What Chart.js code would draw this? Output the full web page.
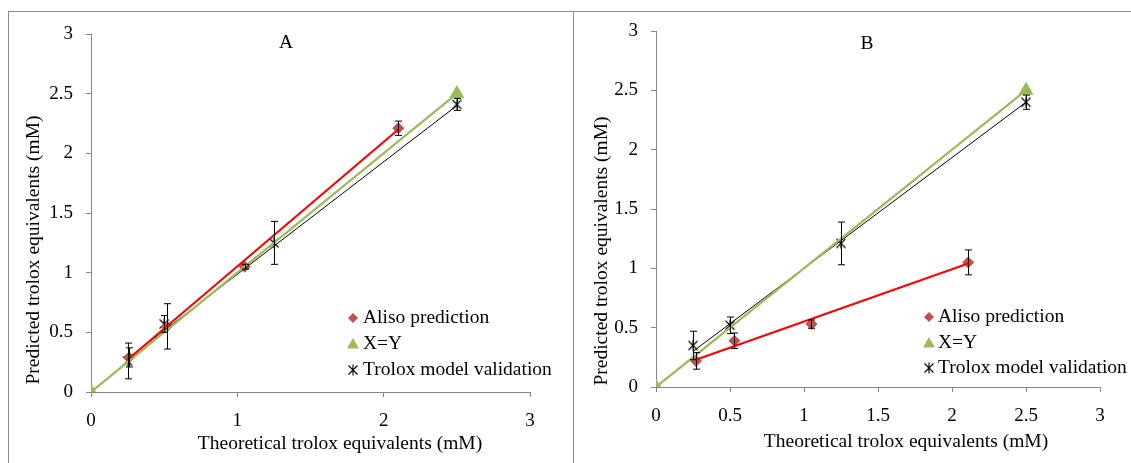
<!DOCTYPE html>
<html>
<head>
<meta charset="utf-8">
<title>Trolox equivalents</title>
<script src="https://cdn.jsdelivr.net/npm/chart.js@4.4.1/dist/chart.umd.min.js"></script>
<style>
    body{
        margin:0;
        background:#fff;
        width:1131px;
        height:463px;
        overflow:hidden;
        position:relative;
    }
    canvas{ position:absolute; top:0; }
    #chartA{ left:0; }
    #chartB{ left:573px; }
    .rule{ position:absolute; background:#8c8c8c; }
</style>
</head>
<body>

<div class="rule" style="left:8px;top:11px;width:1123px;height:1px;"></div>
<div class="rule" style="left:8px;top:11px;width:1px;height:452px;"></div>
<div class="rule" style="left:573px;top:11px;width:1px;height:452px;"></div>

<canvas id="chartA" width="573" height="463"></canvas>
<canvas id="chartB" width="558" height="463"></canvas>

<script>

/* =========================
   DATA
========================= */

const yTicks  = ["0", "0.5", "1", "1.5", "2", "2.5", "3"];
const xTicksA = ["0", "1", "2", "3"];
const xTicksB = ["0", "0.5", "1", "1.5", "2", "2.5", "3"];

// Panel A
const alisoA_x   = [0.26, 0.52, 1.05, 2.10];
const alisoA_y   = [0.29, 0.55, 1.05, 2.21];
const alisoA_err = [0.08, 0.19, 0.02, 0.06];

const troloxA_x   = [0.25, 0.50, 1.25, 2.50];
const troloxA_y   = [0.26, 0.57, 1.25, 2.41];
const troloxA_err = [0.15, 0.07, 0.18, 0.05];

const alisoA_fitX  = [0.25, 2.10];
const alisoA_fitY  = [0.27, 2.20];
const troloxA_fitX = [0.25, 2.50];
const troloxA_fitY = [0.28, 2.40];

// Panel B
const alisoB_x   = [0.27, 0.53, 1.05, 2.11];
const alisoB_y   = [0.22, 0.39, 0.53, 1.05];
const alisoB_err = [0.07, 0.065, 0.035, 0.105];

const troloxB_x   = [0.25, 0.50, 1.25, 2.50];
const troloxB_y   = [0.35, 0.52, 1.21, 2.40];
const troloxB_err = [0.12, 0.07, 0.18, 0.06];

const alisoB_fitX  = [0.27, 2.11];
const alisoB_fitY  = [0.23, 1.04];
const troloxB_fitX = [0.25, 2.50];
const troloxB_fitY = [0.30, 2.40];

// X=Y reference line, same on both panels
const identity_x = [0, 2.5];
const identity_y = [0, 2.5];

const legendNames = ["Aliso prediction", "X=Y", "Trolox model validation"];

/* =========================
   STYLE
========================= */

const RED_MARK = "#c0504d";
const RED_LINE = "#ff0000";
const GREEN    = "#9bbb59";
const AXIS     = "#868686";
const SERIF    = "'Liberation Serif', 'Times New Roman', serif";
const TEXT_PX  = 19.5;
const TICK_PX  = 19;

function pairs(xs, ys){
    return xs.map((x, i) => ({ x: x, y: ys[i] }));
}

// X with a vertical stroke, like the Excel marker
function makeStar(){
    const c = document.createElement("canvas");
    c.width = 12;
    c.height = 12;
    const g = c.getContext("2d");
    g.strokeStyle = "#000";
    g.lineWidth = 1.1;
    g.beginPath();
    g.moveTo(1.5, 1.5);  g.lineTo(10.5, 10.5);
    g.moveTo(10.5, 1.5); g.lineTo(1.5, 10.5);
    g.moveTo(6, 0.5);    g.lineTo(6, 11.5);
    g.stroke();
    return c;
}

const starMark = makeStar();

/* =========================
   PLUGINS
========================= */

const errorBars = {
    id: "errorBars",
    afterDatasetsDraw(chart, args, opts){
        const ctx = chart.ctx;
        const xs = chart.scales.x;
        const ys = chart.scales.y;
        ctx.save();
        ctx.strokeStyle = "#000";
        ctx.lineWidth = 1;
        (opts.sets || []).forEach(set => {
            set.x.forEach((xv, i) => {
                const px = Math.round(xs.getPixelForValue(xv)) + 0.5;
                const top = ys.getPixelForValue(set.y[i] + set.err[i]);
                const bot = ys.getPixelForValue(set.y[i] - set.err[i]);
                ctx.beginPath();
                ctx.moveTo(px, top);      ctx.lineTo(px, bot);
                ctx.moveTo(px - 3.5, top); ctx.lineTo(px + 3.5, top);
                ctx.moveTo(px - 3.5, bot); ctx.lineTo(px + 3.5, bot);
                ctx.stroke();
            });
        });
        ctx.restore();
    }
};

const freeText = {
    id: "freeText",
    afterDraw(chart, args, opts){
        const ctx = chart.ctx;
        ctx.save();
        ctx.fillStyle = "#000";
        ctx.font = TEXT_PX + "px " + SERIF;
        ctx.textAlign = "center";
        ctx.textBaseline = "middle";
        (opts.items || []).forEach(t => {
            ctx.save();
            ctx.translate(t.x, t.y);
            if(t.rotate) ctx.rotate(t.rotate);
            ctx.fillText(t.text, 0, 0);
            ctx.restore();
        });
        ctx.restore();
    }
};

const sideLegend = {
    id: "sideLegend",
    afterDraw(chart, args, opts){
        const ctx = chart.ctx;
        const mx = opts.markX;
        const tx = opts.textX;
        ctx.save();
        ctx.font = TEXT_PX + "px " + SERIF;
        ctx.textBaseline = "middle";
        ctx.textAlign = "left";

        opts.rows.forEach((ry, i) => {
            if(i === 0){
                ctx.fillStyle = RED_MARK;
                ctx.beginPath();
                ctx.moveTo(mx, ry - 5); ctx.lineTo(mx + 5, ry);
                ctx.lineTo(mx, ry + 5); ctx.lineTo(mx - 5, ry);
                ctx.closePath();
                ctx.fill();
            }else if(i === 1){
                ctx.fillStyle = GREEN;
                ctx.beginPath();
                ctx.moveTo(mx, ry - 6); ctx.lineTo(mx + 6, ry + 4.5);
                ctx.lineTo(mx - 6, ry + 4.5);
                ctx.closePath();
                ctx.fill();
            }else{
                ctx.drawImage(starMark, mx - 6, ry - 6);
            }
            ctx.fillStyle = "#000";
            ctx.fillText(legendNames[i], tx, ry);
        });
        ctx.restore();
    }
};

/* =========================
   CHART BUILDER
========================= */

function buildPanel(id, p){

    const tickFont = { family: SERIF, size: TICK_PX };

    return new Chart(document.getElementById(id), {

        type: "scatter",

        data: {
            datasets: [
                {
                    label: "Aliso fit",
                    data: pairs(p.aFitX, p.aFitY),
                    showLine: true,
                    borderColor: RED_LINE,
                    borderWidth: 2.2,
                    pointRadius: 0,
                    order: 0
                },
                {
                    label: legendNames[1],
                    data: pairs(identity_x, identity_y),
                    showLine: true,
                    borderColor: GREEN,
                    borderWidth: 2.2,
                    pointStyle: "triangle",
                    pointRadius: 6.5,
                    backgroundColor: GREEN,
                    pointBorderColor: GREEN,
                    order: 1
                },
                {
                    label: "Trolox fit",
                    data: pairs(p.tFitX, p.tFitY),
                    showLine: true,
                    borderColor: "#000",
                    borderWidth: 1,
                    pointRadius: 0,
                    order: 2
                },
                {
                    label: legendNames[0],
                    data: pairs(p.aX, p.aY),
                    pointStyle: "rectRot",
                    pointRadius: 5.5,
                    backgroundColor: RED_MARK,
                    pointBorderColor: RED_MARK,
                    order: 3
                },
                {
                    label: legendNames[2],
                    data: pairs(p.tX, p.tY),
                    pointStyle: starMark,
                    pointRadius: 6,
                    order: 3
                }
            ]
        },

        options: {

            responsive: false,
            animation: false,
            events: [],

            layout: {
                padding: p.padding
            },

            plugins: {
                legend: { display: false },
                tooltip: { enabled: false },
                errorBars: {
                    sets: [
                        { x: p.aX, y: p.aY, err: p.aErr },
                        { x: p.tX, y: p.tY, err: p.tErr }
                    ]
                },
                freeText: { items: p.texts },
                sideLegend: p.legend
            },

            scales: {

                x: {
                    type: "linear",
                    min: 0,
                    max: 3,
                    ticks: {
                        stepSize: p.xStep,
                        color: "#000",
                        font: tickFont,
                        padding: 13,
                        callback: (v, i) => p.xLabels[i]
                    },
                    grid: {
                        drawOnChartArea: false,
                        tickLength: 5,
                        color: AXIS
                    },
                    border: { color: AXIS },
                    afterFit(scale){ scale.height = 36; }
                },

                y: {
                    type: "linear",
                    min: 0,
                    max: 3,
                    ticks: {
                        stepSize: 0.5,
                        color: "#000",
                        font: tickFont,
                        padding: 13,
                        callback: (v, i) => yTicks[i]
                    },
                    grid: {
                        drawOnChartArea: false,
                        tickLength: 5,
                        color: AXIS
                    },
                    border: { color: AXIS },
                    afterFit(scale){ scale.width = p.yWidth; }
                }

            }

        },

        plugins: [errorBars, freeText, sideLegend]

    });

}

/* =========================
   PANELS
========================= */

document.addEventListener("DOMContentLoaded", () => {

    buildPanel("chartA", {
        aX: alisoA_x, aY: alisoA_y, aErr: alisoA_err,
        tX: troloxA_x, tY: troloxA_y, tErr: troloxA_err,
        aFitX: alisoA_fitX, aFitY: alisoA_fitY,
        tFitX: troloxA_fitX, tFitY: troloxA_fitY,
        xStep: 1,
        xLabels: xTicksA,
        yWidth: 91,
        padding: { left: 0, top: 34, right: 43, bottom: 35 },
        texts: [
            { text: "A", x: 286, y: 43 },
            { text: "Theoretical trolox equivalents (mM)", x: 340, y: 444 },
            { text: "Predicted trolox equivalents (mM)", x: 34, y: 250, rotate: -Math.PI / 2 }
        ],
        legend: { markX: 353, textX: 363, rows: [318, 344, 370] }
    });

    buildPanel("chartB", {
        aX: alisoB_x, aY: alisoB_y, aErr: alisoB_err,
        tX: troloxB_x, tY: troloxB_y, tErr: troloxB_err,
        aFitX: alisoB_fitX, aFitY: alisoB_fitY,
        tFitX: troloxB_fitX, tFitY: troloxB_fitY,
        xStep: 0.5,
        xLabels: xTicksB,
        yWidth: 83,
        padding: { left: 0, top: 31, right: 31, bottom: 40 },
        texts: [
            { text: "B", x: 294, y: 44 },
            { text: "Theoretical trolox equivalents (mM)", x: 333, y: 442 },
            { text: "Predicted trolox equivalents (mM)", x: 29, y: 251, rotate: -Math.PI / 2 }
        ],
        legend: { markX: 356, textX: 365, rows: [317, 343, 368] }
    });

});

</script>
</body>
</html>
